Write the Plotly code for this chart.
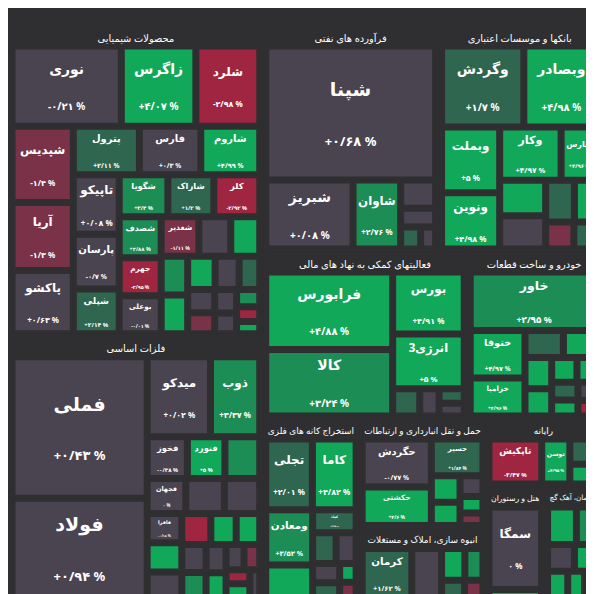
import plotly.graph_objects as go

groups = ["فرآورده های نفتی", "محصولات شیمیایی", "بانکها و موسسات اعتباری",
          "فعالیتهای کمکی به نهاد های مالی", "انبوه سازی، املاک و مستغلات", "رایانه",
          "فلزات اساسی", "خودرو و ساخت قطعات", "استخراج کانه های فلزی",
          "سیمان، آهک گچ", "حمل و نقل انبارداری و ارتباطات", "هتل و رستوران"]

# (name, group, size, change%)  -- unnamed small cells have name starting with "_"
stocks = [
 ("شپنا", 0, 20800, 0.68), ("شبریز", 0, 5500, 0.08), ("شاوان", 0, 3000, 2.76),
 ("_a1", 0, 900, 0.1), ("_a2", 0, 600, 0.2), ("_a3", 0, 400, 1.5), ("_a4", 0, 300, -0.3),
 ("نوری", 1, 7700, -0.21), ("زاگرس", 1, 5250, 4.07), ("شلرد", 1, 4500, -2.98),
 ("شپدیس", 1, 4100, -1.4), ("آریا", 1, 3650, -1.3), ("پاکشو", 1, 3400, 0.63),
 ("پترول", 1, 2800, 2.11), ("فارس", 1, 2600, 0.3), ("شاروم", 1, 2500, 4.99),
 ("تاپیکو", 1, 2400, 0.08), ("پارسان", 1, 2200, -0.7), ("شپلی", 1, 1800, 2.14),
 ("شگویا", 1, 1800, 3.4), ("شاراک", 1, 1700, 1.2), ("کلر", 1, 1700, -2.92),
 ("شصدف", 1, 1500, 2.88), ("جهرم", 1, 1400, -2.95), ("بوعلی", 1, 1400, -0.01),
 ("شغدیر", 1, 1300, -1.11), ("_b1", 1, 1100, 0.2), ("_b2", 1, 1000, 4.8),
 ("_b3", 1, 900, 2.5), ("_b4", 1, 900, 4.9), ("_b5", 1, 800, 4.5), ("_b6", 1, 700, 0.1),
 ("_b7", 1, 600, 1.8), ("_b8", 1, 550, 0.3), ("_b9", 1, 500, -2.1), ("_b10", 1, 450, 0.0),
 ("_b11", 1, 400, -0.4), ("_b12", 1, 350, 3.1), ("_b13", 1, 300, -2.5), ("_b14", 1, 250, 4.9),
 ("وگردش", 2, 6100, 1.7), ("وبصادر", 2, 5500, 4.98), ("وبملت", 2, 3500, 5.0),
 ("ونوین", 2, 3000, 4.98), ("وکار", 2, 3000, 4.97), ("وپارس", 2, 1800, 4.96),
 ("_c1", 2, 1500, 4.5), ("_c2", 2, 1400, 0.5), ("_c3", 2, 1100, 1.9), ("_c4", 2, 900, 4.7),
 ("_c5", 2, 700, -1.2), ("_c6", 2, 600, 2.0),
 ("فرابورس", 3, 9300, 4.88), ("کالا", 3, 8000, 3.24), ("بورس", 3, 4200, 4.91),
 ("انرژی3", 3, 3700, 5.0), ("_d1", 3, 700, 1.5), ("_d2", 3, 500, 0.2), ("_d3", 3, 350, 2.2),
 ("_d4", 3, 300, 0.1),
 ("کرمان", 4, 3000, 1.62), ("_e1", 4, 1800, 0.1), ("_e2", 4, 900, 4.2), ("_e3", 4, 700, 3.8),
 ("_e4", 4, 500, 1.6), ("_e5", 4, 400, -2.4),
 ("تاپکیش", 5, 3000, -3.47), ("توسن", 5, 1600, 4.95), ("_f1", 5, 900, 2.0), ("_f2", 5, 700, 4.4),
 ("فملی", 6, 17000, 0.43), ("فولاد", 6, 12000, 0.94), ("میدکو", 6, 4500, 0.02),
 ("ذوب", 6, 3500, 3.37), ("فخوز", 6, 1500, -0.38), ("فنورد", 6, 1400, 5.0),
 ("فجهان", 6, 1200, 0.0), ("_g1", 6, 1300, 2.9), ("_g2", 6, 1200, 0.2), ("_g3", 6, 1100, 0.1),
 ("فافزا", 6, 900, -0.18), ("_g4", 6, 900, 4.6), ("_g5", 6, 800, 0.3), ("_g6", 6, 800, -2.8),
 ("_g7", 6, 700, 4.4), ("_g8", 6, 650, 4.7), ("_g9", 6, 600, 0.1), ("_g10", 6, 550, 2.6),
 ("_g11", 6, 500, 0.2), ("_g12", 6, 450, 4.3), ("_g13", 6, 400, 0.0), ("_g14", 6, 350, -2.2),
 ("_g15", 6, 300, -2.7), ("_g16", 6, 300, 4.1), ("_g17", 6, 250, 0.2),
 ("خاور", 7, 7200, 2.95), ("ختوقا", 7, 2500, 4.97), ("خزامیا", 7, 2000, 4.96),
 ("_h1", 7, 1000, 2.4), ("_h2", 7, 900, 4.8), ("_h3", 7, 800, 4.9), ("_h4", 7, 700, 4.6),
 ("_h5", 7, 600, 4.9), ("_h6", 7, 500, 4.5), ("_h7", 7, 450, 2.1), ("_h8", 7, 400, 4.9),
 ("_h9", 7, 350, 0.3), ("_h10", 7, 300, -2.6),
 ("تجلی", 8, 3200, 2.01), ("کاما", 8, 3000, 4.82), ("ومعادن", 8, 2500, 3.52),
 ("_i1", 8, 1500, 4.4), ("کچاد", 8, 960, 2.45), ("_i2", 8, 700, 1.9), ("_i3", 8, 600, 0.1),
 ("_i4", 8, 500, 0.3), ("_i5", 8, 400, 2.2), ("_i6", 8, 300, 4.6), ("_i7", 8, 250, -1.4),
 ("_j1", 9, 1200, 4.6), ("_j2", 9, 900, 2.7), ("_j3", 9, 800, 0.2), ("_j4", 9, 700, 4.8),
 ("_j5", 9, 600, 4.5), ("_j6", 9, 500, 4.4), ("_j7", 9, 400, -2.2),
 ("حگردش", 10, 3500, -0.77), ("حکشتی", 10, 2800, 4.6), ("حسیر", 10, 2000, 1.84),
 ("_k1", 10, 800, 4.7), ("_k2", 10, 700, 4.8), ("_k3", 10, 500, 0.1), ("_k4", 10, 400, 4.3),
 ("_k5", 10, 300, -2.1),
 ("سمگا", 11, 4800, 0.0), ("_l1", 11, 500, 4.5),
]

PERSIAN = str.maketrans("0123456789.", "۰۱۲۳۴۵۶۷۸۹/")

def fmt(v):
    s = ("%.2f" % abs(v)).rstrip("0").rstrip(".")
    sign = "+" if v > 0 else ("-" if v < 0 else "")
    return (sign + s + " %").translate(PERSIAN) if v != 0 else "۰ %"

def color(v):
    if v >= 4.0: return "#12a85a"
    if v >= 2.5: return "#1c8d55"
    if v >= 1.0: return "#2e6650"
    if v > -1.0: return "#4a4350"
    if v > -2.5: return "#7a3249"
    return "#9f2540"

ids, labels, parents, values, colors, texts, sizes = [], [], [], [], [], [], []
for gi, g in enumerate(groups):
    tot = sum(s[2] for s in stocks if s[1] == gi)
    ids.append("G%d" % gi); labels.append(g); parents.append(""); values.append(tot)
    colors.append("#2f2f31")
    hs = 12 if tot > 8000 else 9
    texts.append("<span style='font-size:%dpx'><b>%s</b></span>" % (hs, g)); sizes.append(hs)
for name, gi, sz, ch in stocks:
    ids.append("S_" + name); labels.append(name); parents.append("G%d" % gi); values.append(sz)
    colors.append(color(ch))
    if name.startswith("_"):
        texts.append(""); sizes.append(10)
    else:
        if sz >= 10000:
            n, p = 19, 13
        elif sz >= 5000:
            n, p = 14, 10
        else:
            n, p = 12, 8
        texts.append("<span style='font-size:%dpx'><b>%s</b></span><br><br><span style='font-size:%dpx'><b>%s</b></span>"
                     % (n, name, p, fmt(ch)))
        sizes.append(n)

fig = go.Figure(go.Treemap(
    ids=ids, labels=labels, parents=parents, values=values, branchvalues="total",
    text=texts, texttemplate="%{text}", textposition="middle center",
    marker=dict(colors=colors, line=dict(color="#2f2f31", width=3), pad=dict(t=20, l=3, r=3, b=3)),
    textfont=dict(family="Noto Sans, DejaVu Sans", color="white", size=sizes),
    tiling=dict(packing="squarify", pad=4), pathbar=dict(visible=False), sort=True,
    hoverinfo="skip",
))
fig.update_layout(width=594, height=594, margin=dict(l=0, r=0, t=0, b=0),
                  paper_bgcolor="#2f2f31", plot_bgcolor="#2f2f31")
fig.write_html("out.html")
